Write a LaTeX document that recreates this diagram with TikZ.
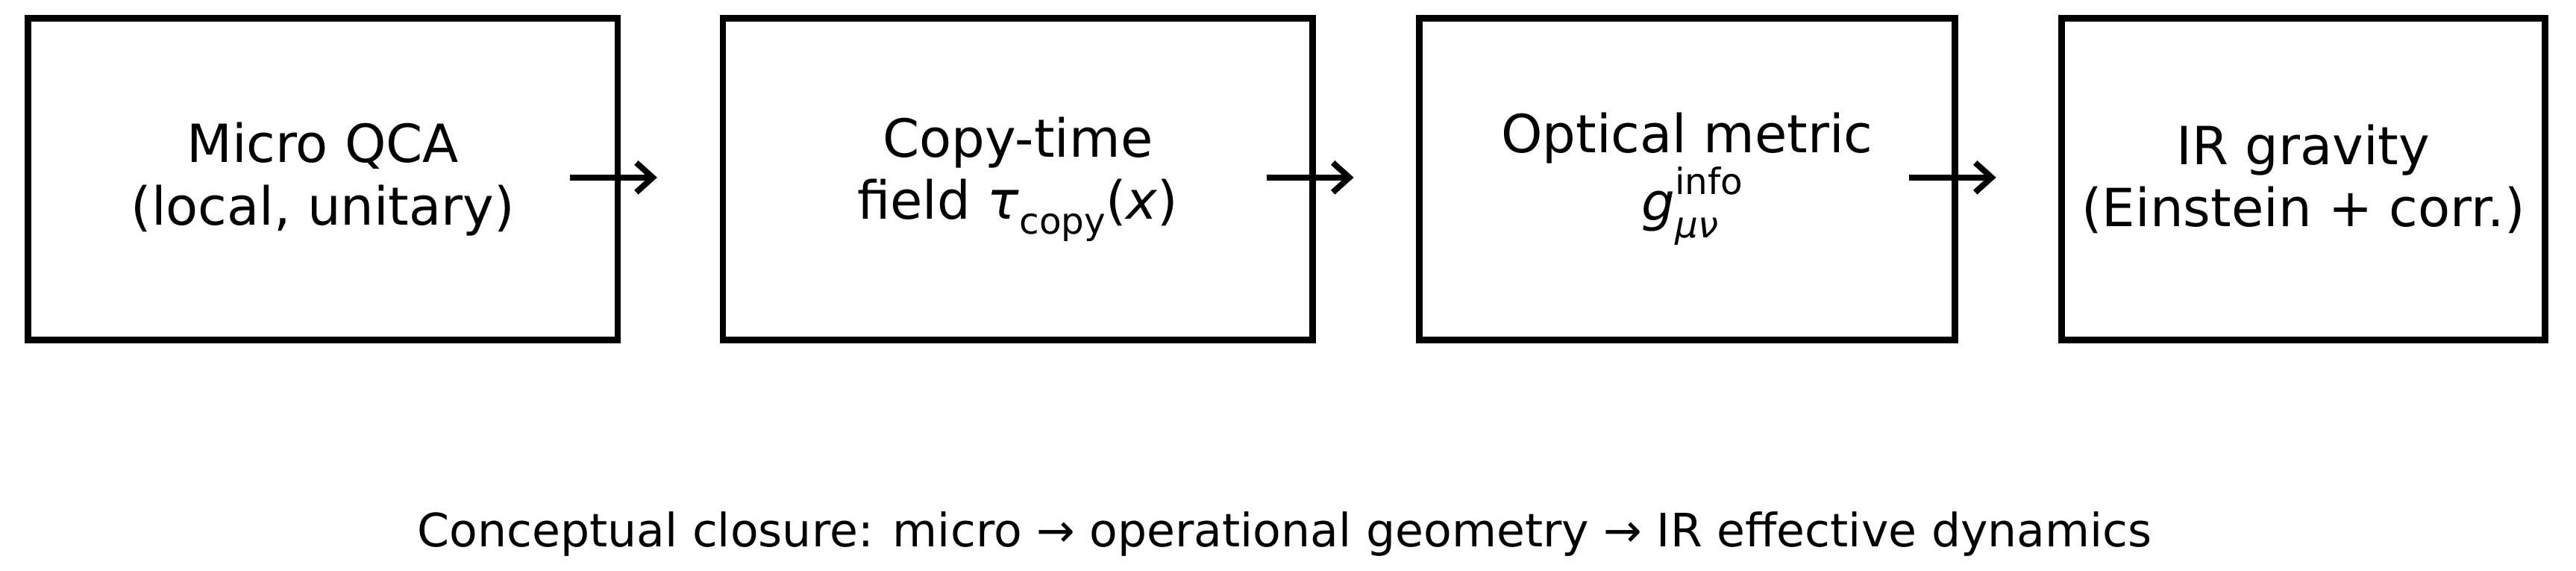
\documentclass[tikz,border=0pt]{standalone}
\usepackage{fontspec}
\setmainfont{DejaVu Sans}
\begin{document}
\begin{tikzpicture}[x=0.5pt,y=-0.5pt,
  blk/.style={draw,line width=2pt,minimum height=98pt,align=center,font=\fontsize{16}{19}\selectfont,inner sep=0pt},
  arr/.style={->,line width=1.8pt,>={Straight Barb[length=5pt,width=9pt]}}]
\useasboundingbox (0,0) rectangle (1568,347);
\usetikzlibrary{arrows.meta}
\node[blk,minimum width=179.5pt] (b1) at (196.5,109) {Micro QCA\\(local, unitary)};
\node[blk,minimum width=179.5pt] (b2) at (619.5,109) {Copy-time\\field \textit{τ}\raisebox{-0.5ex}{\fontsize{11}{11}\selectfont copy}(\textit{x})};
\node[blk,minimum width=163pt] (b3) at (1027,109) {Optical metric\\\textit{g}\rlap{\raisebox{0.9ex}{\fontsize{11}{11}\selectfont info}}\raisebox{-0.6ex}{\fontsize{11}{11}\selectfont\textit{μν}}\phantom{i}};
\node[blk,minimum width=147pt] (b4) at (1402,109) {IR gravity\\(Einstein + corr.)};
\coordinate (a1s) at (347,108); \coordinate (a1e) at (400,108);
\coordinate (a2s) at (771,108); \coordinate (a2e) at (824,108);
\coordinate (a3s) at (1162,108); \coordinate (a3e) at (1215,108);
\draw[arr] (a1s) -- (a1e);
\draw[arr] (a2s) -- (a2e);
\draw[arr] (a3s) -- (a3e);
\node[font=\fontsize{14}{17}\selectfont] (cap) at (782,325) {Conceptual closure: micro → operational geometry → IR effective dynamics};
\end{tikzpicture}
\end{document}
